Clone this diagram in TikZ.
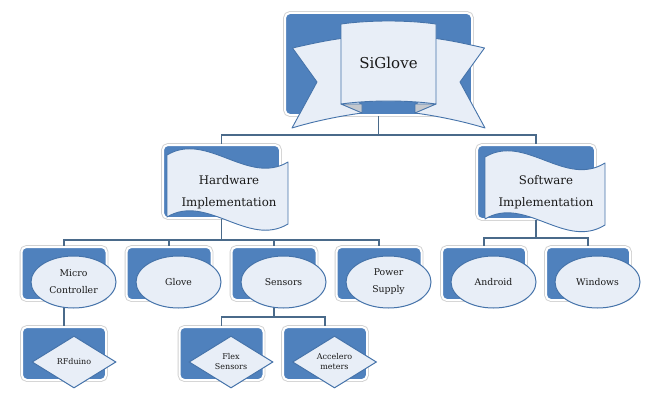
\documentclass[tikz,border=0pt]{standalone}
\usepackage{fontspec}
\setmainfont{DejaVu Serif}
\usetikzlibrary{shapes.geometric}
\definecolor{boxblue}{HTML}{4F81BD}
\definecolor{lightfill}{HTML}{E8EEF7}
\definecolor{edgeblue}{HTML}{4573AA}
\definecolor{conncol}{HTML}{4A6A8A}
\definecolor{foldgray}{HTML}{C4C8CE}
\definecolor{txt}{HTML}{1A1A1A}
\begin{document}
\begin{tikzpicture}[x=1pt,y=-1pt,
  bluebox/.style={rectangle, rounded corners=5pt, fill=boxblue, draw=white, line width=2pt, inner sep=0pt,
    preaction={draw=black!18, line width=3.8pt}},
  oval/.style={ellipse, fill=lightfill, draw=edgeblue, line width=1pt, minimum width=85pt, minimum height=52pt,
    inner sep=0pt, align=center, text=txt, font=\fontsize{9.3}{17}\selectfont},
  gem/.style={diamond, fill=lightfill, draw=edgeblue, line width=1pt, minimum width=84pt, minimum height=52pt,
    inner sep=0pt, aspect=1.6, align=center, text=txt, font=\fontsize{8}{10}\selectfont},
  conn/.style={draw=conncol, line width=1.3pt},
  ribbon/.style={fill=lightfill, draw=edgeblue, line width=0.9pt, line join=round},
  wavetext/.style={font=\fontsize{11.8}{22}\selectfont, align=center, text=txt},
]
\useasboundingbox (0,0) rectangle (672,412);
\fill[white] (0,0) rectangle (672,412);

% boxes
\node[bluebox, minimum width=187pt, minimum height=102pt] (top) at (378.5,64) {};
\node[bluebox, minimum width=117pt, minimum height=73pt] (hw) at (221.5,181.5) {};
\node[bluebox, minimum width=118pt, minimum height=74pt] (sw) at (536,182) {};
\node[bluebox, minimum width=85pt, minimum height=53pt] (micro) at (64,273.5) {};
\node[bluebox, minimum width=85pt, minimum height=53pt] (glove) at (169,273.5) {};
\node[bluebox, minimum width=85pt, minimum height=53pt] (sens) at (274,273.5) {};
\node[bluebox, minimum width=85pt, minimum height=53pt] (power) at (379,273.5) {};
\node[bluebox, minimum width=84pt, minimum height=53pt] (andr) at (484,273.5) {};
\node[bluebox, minimum width=84pt, minimum height=53pt] (win) at (588,273.5) {};
\node[bluebox, minimum width=84pt, minimum height=53pt] (rf) at (64,353.5) {};
\node[bluebox, minimum width=84pt, minimum height=53pt] (flex) at (221.5,353.5) {};
\node[bluebox, minimum width=84pt, minimum height=53pt] (acc) at (325,353.5) {};

% bus coordinates
\coordinate (topbus) at (0,135);
\coordinate (hwbus) at (0,240);
\coordinate (swbus) at (0,238);
\coordinate (snbus) at (0,317);

% connectors
\draw[conn] (top.south) -- (top.south |- topbus) -| (hw.north);
\draw[conn] (top.south |- topbus) -| (sw.north);
\draw[conn] (hw.south) -- (hw.south |- hwbus) -| (micro.north);
\draw[conn] (hw.south |- hwbus) -| (glove.north);
\draw[conn] (hw.south |- hwbus) -| (sens.north);
\draw[conn] (hw.south |- hwbus) -| (power.north);
\draw[conn] (sw.south) -- (sw.south |- swbus) -| (andr.north);
\draw[conn] (sw.south |- swbus) -| (win.north);
\draw[conn] (micro.south) -- (rf.north);
\draw[conn] (sens.south) -- (sens.south |- snbus) -| (flex.north);
\draw[conn] (sens.south |- snbus) -| (acc.north);

% ribbon on top box
\path[ribbon] (292.5,48) .. controls (310,44) and (328,40) .. (345,38) -- (362,113)
  .. controls (340,116) and (315,121) .. (292,128) -- (317,82) -- cycle;
\path[ribbon] (484.5,48) .. controls (467,44) and (449,40) .. (432,38) -- (415,113)
  .. controls (437,116) and (462,121) .. (485,128) -- (460,82) -- cycle;
\path[fill=foldgray, draw=edgeblue, line width=0.9pt, line join=round] (341,104) -- (362,104) -- (362,113) -- cycle;
\path[fill=foldgray, draw=edgeblue, line width=0.9pt, line join=round] (436,104) -- (415,104) -- (415,113) -- cycle;
\path[ribbon] (341,24) .. controls (370,20) and (407,20) .. (436,24) -- (436,104)
  .. controls (407,100) and (370,100) .. (341,104) -- cycle;
\node[font=\fontsize{15}{18}\selectfont, text=txt] (title) at (388.5,63) {SiGlove};

% waves
\path[ribbon] (167,155) .. controls (207,131) and (248,186) .. (288,162) -- (288,224)
  .. controls (248,248) and (207,193) .. (167,217) -- cycle;
\node[wavetext] (hwT) at (229,192) {Hardware\\Implementation};
\path[ribbon] (485,157) .. controls (525,133) and (565,188) .. (605,163) -- (605,225)
  .. controls (565,250) and (525,195) .. (485,219) -- cycle;
\node[wavetext] (swT) at (546,192) {Software\\Implementation};

% ellipses
\node[oval] (microE) at (73.5,282) {Micro\\Controller};
\node[oval] (gloveE) at (178.5,282) {Glove};
\node[oval] (sensE) at (283.5,282) {Sensors};
\node[oval] (powerE) at (388.5,282) {Power\\Supply};
\node[oval] (andrE) at (493.5,282) {Android};
\node[oval] (winE) at (597.5,282) {Windows};

% diamonds
\node[gem] (rfD) at (74,362) {RFduino};
\node[gem] (flexD) at (231,362) {Flex\\Sensors};
\node[gem] (accD) at (334.5,362) {Accelero\\meters};
\end{tikzpicture}
\end{document}
